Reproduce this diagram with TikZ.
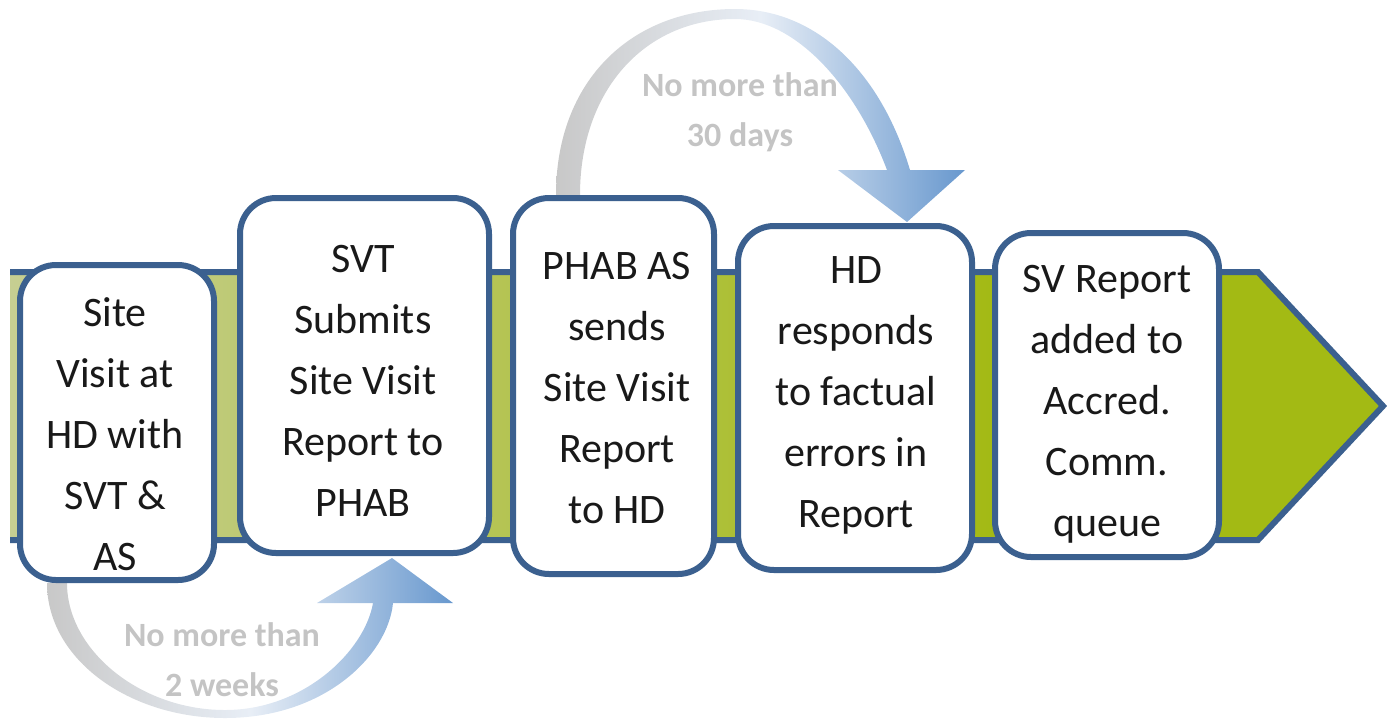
\documentclass[tikz,border=0pt]{standalone}
\usepackage{fontspec}
\setmainfont{Carlito}
\definecolor{boxblue}{RGB}{59,96,143}
\definecolor{sage}{RGB}{198,206,146}
\definecolor{olive}{RGB}{163,186,20}
\definecolor{arrgrey}{RGB}{200,200,200}
\definecolor{arrblue}{RGB}{104,152,206}
\definecolor{arrmid}{RGB}{232,238,246}
\definecolor{lbl}{RGB}{196,196,196}
\definecolor{txt}{RGB}{25,25,25}
\tikzset{
  stepbox/.style={draw=boxblue, line width=3pt, fill=white, rounded corners=18pt, inner sep=0pt},
  steptext/.style={align=center, text=txt, inner sep=0pt, font=\fontsize{21pt}{30.5pt}\selectfont},
  timelbl/.style={align=center, text=lbl, inner sep=0pt, font=\bfseries\fontsize{17pt}{25pt}\selectfont},
  bandline/.style={draw=boxblue, line width=3pt, line join=miter},
  curvearrow/.style={left color=arrgrey, right color=arrblue, middle color=arrmid}
}
\begin{document}
\begin{tikzpicture}[x=0.5pt, y=-0.5pt]
\useasboundingbox (0,0) rectangle (1387,720);
% band arrow
\fill[olive] (10,272) -- (1258,272) -- (1383,406) -- (1258,540) -- (10,540) -- cycle;
\shade[left color=sage, right color=olive] (10,272) rectangle (1000,540);
\draw[bandline] (10,272) -- (1258,272) -- (1383,406) -- (1258,540) -- (10,540);
% curved arrows
\shade[curvearrow] (556,195) .. controls (556,80) and (632,9) .. (735,9)
  .. controls (815,9) and (880,70) .. (910,170)
  -- (965,170) -- (907,222) -- (838,170) -- (887,170)
  .. controls (855,85) and (795,19) .. (735,19)
  .. controls (645,19) and (580,90) .. (580,195) -- cycle;
\shade[curvearrow] (47,583) .. controls (47,660) and (130,718) .. (225,718)
  .. controls (325,718) and (388,655) .. (393,603)
  -- (453,603) -- (392,558) -- (317,603) -- (373,603)
  .. controls (365,650) and (305,710) .. (225,710)
  .. controls (140,710) and (67,650) .. (67,583) -- cycle;
% boxes
\node[stepbox, minimum width=97pt, minimum height=157.5pt] (b1) at (117,422.5) {};
\node[stepbox, minimum width=124.5pt, minimum height=177.5pt] (b2) at (364.5,375.5) {};
\node[stepbox, minimum width=100.5pt, minimum height=188pt] (b3) at (613.5,386) {};
\node[stepbox, minimum width=117pt, minimum height=172pt] (b4) at (855,398) {};
\node[stepbox, minimum width=112pt, minimum height=162pt] (b5) at (1107,395) {};
% texts
\node[steptext] (t1) at (115,434) {Site\\Visit at\\HD with\\SVT \&\\AS};
\node[steptext] (t2) at (363,381) {SVT\\Submits\\Site Visit\\Report to\\PHAB};
\node[steptext] (t3) at (617,388) {PHAB AS\\sends\\Site Visit\\Report\\to HD};
\node[steptext] (t4) at (856,395) {HD\\responds\\to factual\\errors in\\Report};
\node[steptext] (t5) at (1107,404) {SV Report\\added to\\Accred.\\Comm.\\queue};
\node[timelbl] (l1) at (740,112) {No more than\\30 days};
\node[timelbl] (l2) at (222,660) {No more than\\2 weeks};
\end{tikzpicture}
\end{document}
